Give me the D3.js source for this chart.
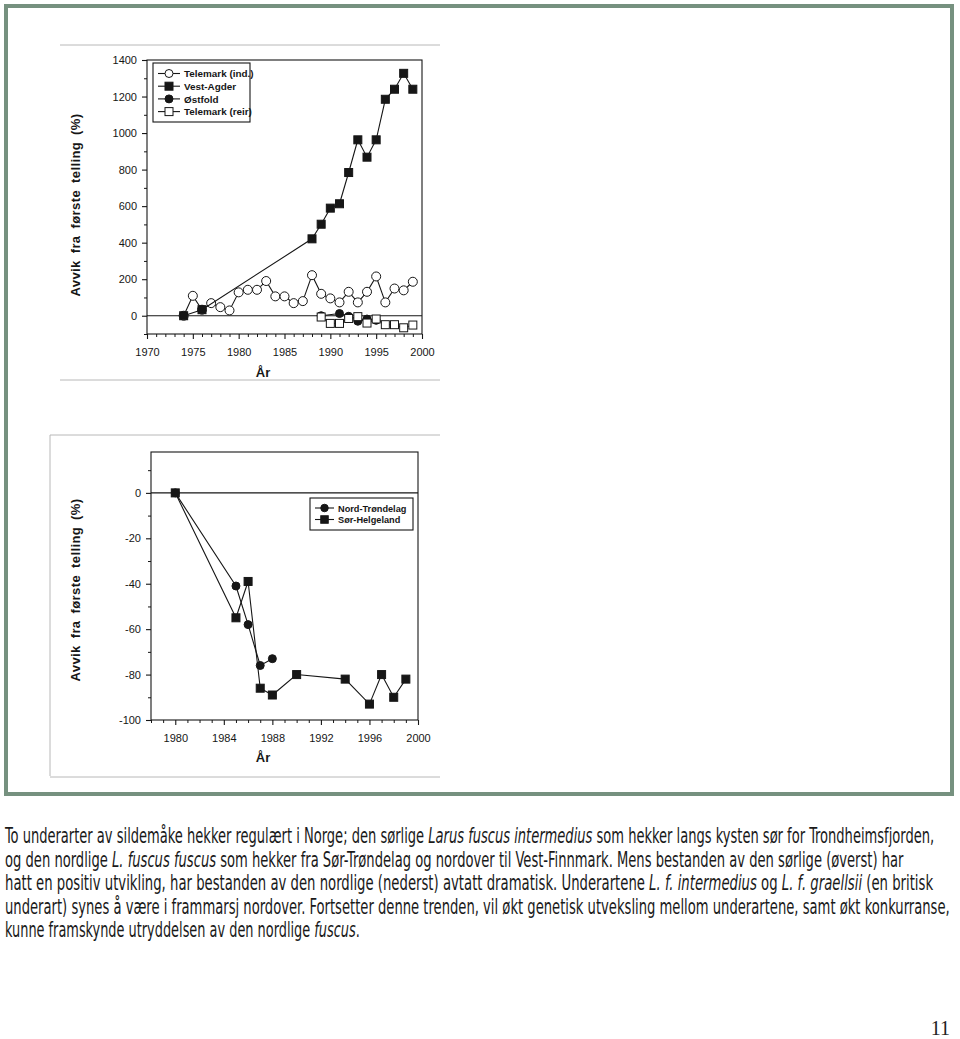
<!DOCTYPE html>
<html><head><meta charset="utf-8">
<script src="https://cdn.jsdelivr.net/npm/d3@7"></script>
<style>
html,body{margin:0;padding:0;background:#fff;}
svg{display:block;}
</style></head>
<body>
<svg id="page" width="960" height="1039"></svg>
<script>
// ---------- DATA ----------
// Top chart (southern population)
const telIndYears = [1974,1975,1976,1977,1978,1979,1980,1981,1982,1983,1984,1985,1986,1987,1988,1989,1990,1991,1992,1993,1994,1995,1996,1997,1998,1999];
const telIndValues = [0,109,33,69,47,29,128,142,142,190,106,106,69,80,222,120,95,73,131,73,131,215,73,149,139,186];
const vestAgderYears = [1974,1976,1988,1989,1990,1991,1992,1993,1994,1995,1996,1997,1998,1999];
const vestAgderValues = [0,33,421,501,589,613,784,963,868,963,1185,1240,1327,1240];
const ostfoldYears = [1989,1991,1992,1993,1994,1995];
const ostfoldValues = [0,12,-3,-30,-18,-25];
const telReirYears = [1989,1990,1991,1992,1993,1994,1995,1996,1997,1998,1999];
const telReirValues = [-7,-42,-42,-15,-5,-40,-18,-49,-49,-66,-51];
const topLegend = ["Telemark (ind.)","Vest-Agder","Østfold","Telemark (reir)"];
const topYTicks = [0,200,400,600,800,1000,1200,1400];
const topXTicks = [1970,1975,1980,1985,1990,1995,2000];

// Bottom chart (northern population)
const ntYears = [1980,1985,1986,1987,1988];
const ntValues = [0,-41,-58,-76,-73];
const shYears = [1980,1985,1986,1987,1988,1990,1994,1996,1997,1998,1999];
const shValues = [0,-55,-39,-86,-89,-80,-82,-93,-80,-90,-82];
const botLegend = ["Nord-Trøndelag","Sør-Helgeland"];
const botYTicks = [-100,-80,-60,-40,-20,0];
const botXTicks = [1980,1984,1988,1992,1996,2000];

const yLabel = "Avvik fra første telling (%)";
const xLabel = "År";

const captionLines = [
  [["To underarter av sildemåke hekker regulært i Norge; den sørlige ",0],["Larus fuscus intermedius",1],[" som hekker langs kysten sør for Trondheimsfjorden,",0]],
  [["og den nordlige ",0],["L. fuscus fuscus",1],[" som hekker fra Sør-Trøndelag og nordover til Vest-Finnmark. Mens bestanden av den sørlige (øverst) har",0]],
  [["hatt en positiv utvikling, har bestanden av den nordlige (nederst) avtatt dramatisk. Underartene ",0],["L. f. intermedius",1],[" og ",0],["L. f. graellsii",1],[" (en britisk",0]],
  [["underart) synes å være i frammarsj nordover. Fortsetter denne trenden, vil økt genetisk utveksling mellom underartene, samt økt konkurranse,",0]],
  [["kunne framskynde utryddelsen av den nordlige ",0],["fuscus",1],[".",0]]
];
const captionWidths = [930, 899, 929, 945, 355];
const pageNumber = "11";

// ---------- DRAW ----------
const svg = d3.select("#page");
const ink = "#161616";
const chartFont = "'Liberation Sans', Arial, sans-serif";
const fmt = d => String(d);

// outer frame
svg.append("rect").attr("x",6).attr("y",6).attr("width",946).attr("height",788)
  .attr("fill","none").attr("stroke","#76917f").attr("stroke-width",4);

// faint scan borders
const scan = svg.append("g").attr("stroke","#b8b8b8").attr("stroke-width",1).attr("fill","none");
scan.append("line").attr("x1",60).attr("x2",440).attr("y1",45).attr("y2",45);
scan.append("line").attr("x1",60).attr("x2",440).attr("y1",380).attr("y2",380);
scan.append("line").attr("x1",50).attr("x2",440).attr("y1",435).attr("y2",435);
scan.append("line").attr("x1",50).attr("x2",50).attr("y1",435).attr("y2",776);
scan.append("line").attr("x1",50).attr("x2",440).attr("y1",777).attr("y2",777);

function drawChart(cfg){
  const g = svg.append("g");
  const x = d3.scaleLinear().domain(cfg.xDomain).range([cfg.left, cfg.right]);
  const y = d3.scaleLinear().domain(cfg.yDomain).range([cfg.bottom, cfg.top]);

  // frame
  g.append("rect").attr("x",cfg.left).attr("y",cfg.top)
    .attr("width",cfg.right-cfg.left).attr("height",cfg.bottom-cfg.top)
    .attr("fill","none").attr("stroke",ink).attr("stroke-width",1.1);

  // y axis
  const ya = g.append("g").attr("transform",`translate(${cfg.left},0)`)
    .call(d3.axisLeft(y).tickValues(cfg.yTicks).tickSize(5).tickPadding(5).tickFormat(fmt));
  ya.select(".domain").remove();
  ya.selectAll("line").attr("stroke",ink).attr("stroke-width",1.1);
  ya.selectAll("text").attr("font-family",chartFont).attr("font-size",11).attr("fill",ink);
  const ym = g.append("g").attr("transform",`translate(${cfg.left},0)`)
    .call(d3.axisLeft(y).tickValues(cfg.yMinor).tickSize(3).tickFormat(""));
  ym.select(".domain").remove();
  ym.selectAll("line").attr("stroke",ink);

  // x axis
  const xa = g.append("g").attr("transform",`translate(0,${cfg.bottom})`)
    .call(d3.axisBottom(x).tickValues(cfg.xTicks).tickSize(5).tickPadding(9).tickFormat(fmt));
  xa.select(".domain").remove();
  xa.selectAll("line").attr("stroke",ink).attr("stroke-width",1.1);
  xa.selectAll("text").attr("font-family",chartFont).attr("font-size",11).attr("fill",ink);
  const xm = g.append("g").attr("transform",`translate(0,${cfg.bottom})`)
    .call(d3.axisBottom(x).tickValues(cfg.xMinor).tickSize(3).tickFormat(""));
  xm.select(".domain").remove();
  xm.selectAll("line").attr("stroke",ink);

  // zero line
  g.append("line").attr("x1",cfg.left).attr("x2",cfg.right)
    .attr("y1",y(0)).attr("y2",y(0)).attr("stroke",ink).attr("stroke-width",1.1);

  // axis titles
  g.append("text").attr("transform",`translate(${cfg.yTitleX},${(cfg.top+cfg.bottom)/2+cfg.yTitleDy}) rotate(-90)`)
    .attr("text-anchor","middle").attr("font-family",chartFont).attr("font-weight","bold")
    .attr("font-size",13).attr("fill",ink).attr("letter-spacing","0.4").attr("word-spacing","3").text(yLabel);
  g.append("text").attr("x",cfg.xTitleX).attr("y",cfg.xTitleY)
    .attr("text-anchor","middle").attr("font-family",chartFont).attr("font-weight","bold")
    .attr("font-size",13).attr("fill",ink).text(xLabel);

  // series
  cfg.series.forEach(s=>{
    const pts = s.years.map((yr,i)=>[x(yr), y(s.values[i])]);
    g.append("path").attr("d",d3.line()(pts)).attr("fill","none").attr("stroke",ink).attr("stroke-width",1.1);
    const fill = s.open ? "#fff" : ink;
    if(s.shape==="circle"){
      g.selectAll(null).data(pts).join("circle").attr("cx",d=>d[0]).attr("cy",d=>d[1])
        .attr("r",s.size/2).attr("fill",fill).attr("stroke",ink).attr("stroke-width",1);
    } else {
      g.selectAll(null).data(pts).join("rect").attr("x",d=>d[0]-s.size/2).attr("y",d=>d[1]-s.size/2)
        .attr("width",s.size).attr("height",s.size).attr("fill",fill).attr("stroke",ink).attr("stroke-width",1);
    }
  });

  // legend
  const L = cfg.legend;
  g.append("rect").attr("x",L.x).attr("y",L.y).attr("width",L.w).attr("height",L.h)
    .attr("fill","#fff").attr("stroke",ink).attr("stroke-width",1.1);
  cfg.series.forEach((s,i)=>{
    const ry = L.y + L.row0 + i*L.dy;
    g.append("line").attr("x1",L.x+L.l0).attr("x2",L.x+L.l1).attr("y1",ry).attr("y2",ry).attr("stroke",ink).attr("stroke-width",1.1);
    const cx = (2*L.x+L.l0+L.l1)/2;
    const fill = s.open ? "#fff" : ink;
    const sz = L.sym;
    if(s.shape==="circle") g.append("circle").attr("cx",cx).attr("cy",ry).attr("r",sz/2).attr("fill",fill).attr("stroke",ink);
    else g.append("rect").attr("x",cx-sz/2).attr("y",ry-sz/2).attr("width",sz).attr("height",sz).attr("fill",fill).attr("stroke",ink);
    g.append("text").attr("x",L.x+L.tx).attr("y",ry+3.6).attr("font-family",chartFont).attr("font-weight","bold")
      .attr("font-size",L.fs).attr("fill",ink).text(cfg.legendLabels[i]);
  });
}

const range = (a,b,s)=>d3.range(a,b+s/2,s);

drawChart({
  left:147, right:422, top:60, bottom:334,
  xDomain:[1970,2000], yDomain:[-100,1400],
  xTicks: topXTicks, xMinor: range(1970,2000,1).filter(v=>v%5),
  yTicks: topYTicks, yMinor: range(-100,1300,200),
  yTitleX:80, yTitleDy:8, xTitleX:263, xTitleY:377,
  series:[
    {years:telIndYears, values:telIndValues, shape:"circle", open:true, size:9},
    {years:vestAgderYears, values:vestAgderValues, shape:"square", open:false, size:8},
    {years:ostfoldYears, values:ostfoldValues, shape:"circle", open:false, size:8},
    {years:telReirYears, values:telReirValues, shape:"square", open:true, size:8}
  ],
  legendLabels: topLegend,
  legend:{x:153, y:63, w:97, h:59, row0:10.5, dy:12.7, l0:5, l1:27, tx:31, sym:8, fs:9.9}
});

drawChart({
  left:151, right:418, top:452, bottom:720,
  xDomain:[1978,2000], yDomain:[-100,18],
  xTicks: botXTicks, xMinor: range(1978,2000,1).filter(v=>v%4),
  yTicks: botYTicks, yMinor: range(-90,10,20),
  yTitleX:80, yTitleDy:4, xTitleX:263, xTitleY:762,
  series:[
    {years:ntYears, values:ntValues, shape:"circle", open:false, size:8},
    {years:shYears, values:shValues, shape:"square", open:false, size:8}
  ],
  legendLabels: botLegend,
  legend:{x:310, y:498, w:103, h:32, row0:10, dy:11.5, l0:5, l1:24, tx:28, sym:7.5, fs:9.2}
});

// caption: each line scaled horizontally to the reference's width
const capFont = "'Liberation Sans Narrow','DejaVu Sans Condensed','Liberation Sans',sans-serif";
captionLines.forEach((line,i)=>{
  const y0 = 843 + i*23.5;
  const g = svg.append("g").attr("transform",`translate(5,${y0})`);
  const t = g.append("text").attr("x",0).attr("y",0)
    .attr("font-family",capFont).attr("font-size",21.5).attr("fill","#1a1a1a");
  line.forEach(([s,it])=>{
    t.append("tspan").attr("font-style",it?"italic":"normal").text(s);
  });
  const w = t.node().getComputedTextLength();
  const sx = captionWidths[i] / w;
  g.attr("transform",`translate(5,${y0}) scale(${sx},1)`);
});

svg.append("text").attr("x",950).attr("y",1035).attr("text-anchor","end")
  .attr("font-family","'Liberation Serif','Times New Roman',serif").attr("font-size",20)
  .attr("fill","#222").text(pageNumber);
</script>
</body></html>
